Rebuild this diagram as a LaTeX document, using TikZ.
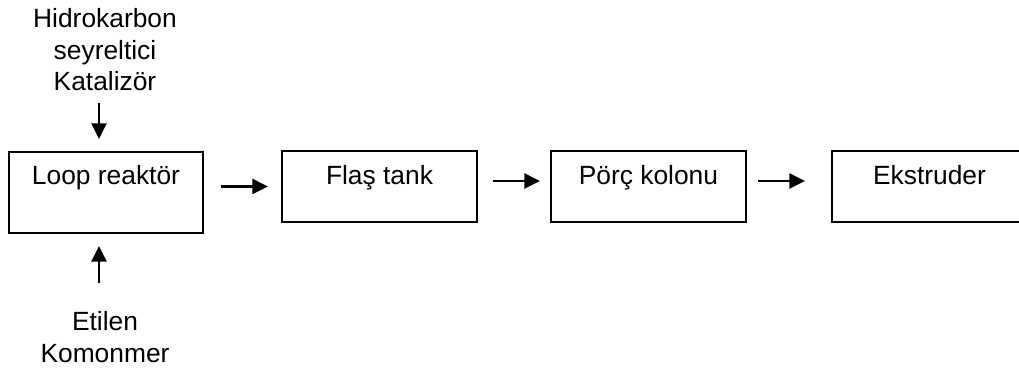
\documentclass[tikz,border=0pt]{standalone}
\usepackage{fontspec}
\setmainfont{Liberation Sans}
\usepackage{tikz}
\usetikzlibrary{arrows.meta}

\begin{document}
\begin{tikzpicture}[
	every node/.style={font=\fontsize{15}{17.8}\selectfont},
	unit/.style={draw, line width=1.2pt, inner sep=0pt, minimum width=3.9cm, minimum height=1.42cm, text height=0.4cm, text depth=0.46cm},
	feed/.style={align=center, inner sep=0pt, anchor=north},
	flow/.style={line width=1.2pt, -{Triangle[length=0.31cm, width=0.3cm]}}]
							
							\useasboundingbox (0,0) rectangle (20.38,7.4);
							
							\node[unit, minimum width=3.88cm, minimum height=1.62cm, text depth=0.7cm] (loop) at (2.12,3.55) {Loop reaktör};
							\node[unit] (flas) at (7.59,3.67) {Flaş tank};
							\node[unit] (porc) at (12.97,3.67) {Pörç kolonu};
							\node[unit] (ekstruder) at (18.59,3.67) {Ekstruder};
							
							\node[feed] (top) at (2.1,7.23) {Hidrokarbon\\seyreltici\\Katalizör};
							\node[feed] (bottom) at (2.1,1.17) {Etilen\\Komonmer};
							
							\draw[flow, shorten <=0.24cm, shorten >=0.24cm] ([xshift=-0.12cm]top.south) -- ([xshift=-0.12cm]top.south |- loop.north);
							\draw[flow, shorten <=0.57cm, shorten >=0.24cm] ([xshift=-0.12cm]bottom.north) -- ([xshift=-0.12cm]bottom.north |- loop.south);
							
							\draw[flow, shorten <=0.34cm, shorten >=0.26cm] (loop.east |- flas.west) -- (flas.west);
							\foreach \from/\to/\gapa/\gapb in {
								flas/porc/0.3/0.2,
								porc/ekstruder/0.22/0.52}
							{
								\draw[flow, shorten <=\gapa cm, shorten >=\gapb cm] ([yshift=0.11cm]\from.east) -- ([yshift=0.11cm]\to.west);
							};
							
							\end{tikzpicture}
\end{document}
